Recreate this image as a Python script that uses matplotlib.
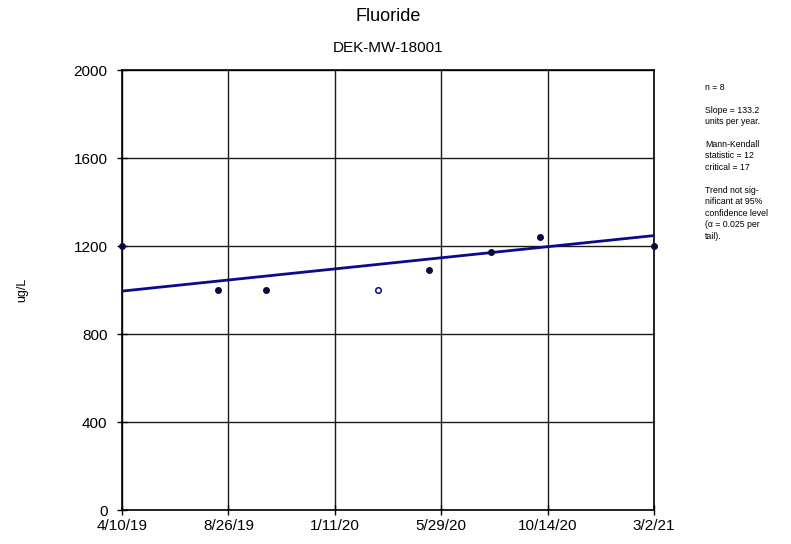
import numpy as np
import pandas as pd
import matplotlib.pyplot as plt
import matplotlib.dates as mdates

plt.rcParams['font.family'] = ['Liberation Sans', 'DejaVu Sans']

# Fluoride results at DEK-MW-18001 (ug/L)
sample_dates = ["2019-04-10", "2019-08-13", "2019-10-14", "2020-03-08",
                "2020-05-13", "2020-08-02", "2020-10-05", "2021-03-02"]
fluoride = [1200, 1000, 1000, 1000, 1090, 1175, 1240, 1200]
non_detect = [False, False, False, True, False, False, False, False]

# Sen's slope trend line
slope_per_year = 133.2
trend_start = 995

tick_labels = ["4/10/19", "8/26/19", "1/11/20", "5/29/20", "10/14/20", "3/2/21"]

dates = pd.to_datetime(sample_dates)
t0, t1 = dates[0], dates[-1]

fig = plt.figure(figsize=(7.91, 5.44), dpi=100)
ax = fig.add_axes([0.1542, 0.0625, 0.6726, 0.8088])

# trend line across the full date span
span_years = (t1 - t0).days / 365.25
ax.plot([t0, t1], [trend_start, trend_start + slope_per_year * span_years],
        color="#0a0a8c", lw=2, zorder=3)

det = [not n for n in non_detect]
ax.plot(dates[det], np.array(fluoride)[det], "o", ms=4, color="#0a0a40",
        clip_on=False, zorder=4)
ax.plot(dates[non_detect], np.array(fluoride)[non_detect], "o", ms=4,
        mfc="white", mec="#0a0a8c", mew=1.1, clip_on=False, zorder=4)

ticks = pd.date_range(t0, t1, periods=len(tick_labels))
ax.set_xticks(mdates.date2num(ticks))
ax.set_xticklabels(tick_labels)
ax.set_xlim(mdates.date2num(t0), mdates.date2num(t1))
ax.set_ylim(0, 2000)
ax.set_yticks(range(0, 2001, 400))

ax.grid(True, color="#1a1a1a", lw=1)
for s in ax.spines.values():
    s.set_linewidth(1.2)
ax.tick_params(direction="inout", length=7, width=1, labelsize=11)
ax.tick_params(axis="y", pad=7)
ax.tick_params(axis="x", pad=3)

fig.text(22 / 791, 1 - 290 / 544, "ug/L", rotation=90, ha="center",
         va="center", fontsize=9)

fig.text(0.4905, 0.97, "Fluoride", ha="center", va="center", fontsize=13)
fig.text(0.4905, 0.912, "DEK-MW-18001", ha="center", va="center", fontsize=11)

notes = ("n = 8\n\n"
         "Slope = 133.2\nunits per year.\n\n"
         "Mann-Kendall\nstatistic = 12\ncritical = 17\n\n"
         "Trend not sig-\nnificant at 95%\nconfidence level\n(\u03b1 = 0.025 per\ntail).")
fig.text(0.891, 0.848, notes, ha="left", va="top", fontsize=6.3, linespacing=1.35)

fig.savefig("out.png", dpi=100)
